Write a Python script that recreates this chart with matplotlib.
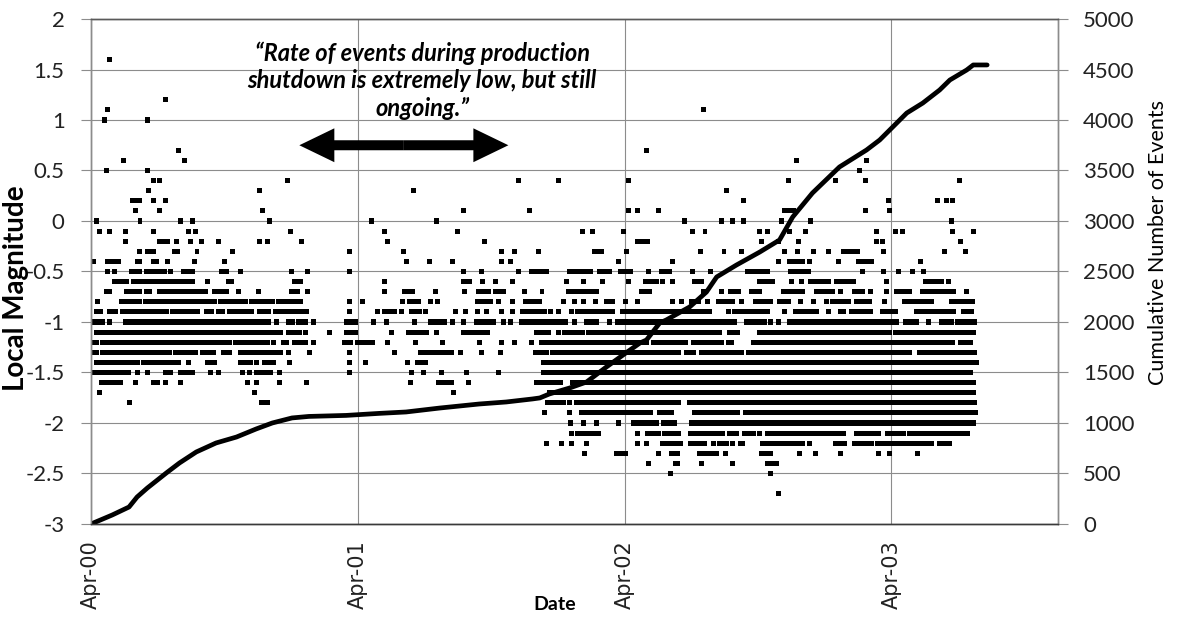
import matplotlib.pyplot as plt
from matplotlib.patches import FancyArrowPatch
import numpy as np

# dates are days since 1 Apr 2000
date_ticks = [0, 365, 730, 1095]
date_labels = ['Apr-00', 'Apr-01', 'Apr-02', 'Apr-03']
mag_ticks = [-3, -2.5, -2, -1.5, -1, -0.5, 0, 0.5, 1, 1.5, 2]
count_ticks = [0, 500, 1000, 1500, 2000, 2500, 3000, 3500, 4000, 4500, 5000]

# cumulative number of events
cum_days = [0, 29, 52, 63, 77, 103, 121, 144, 171, 199, 226, 248, 275, 298,
            349, 394, 431, 477, 531, 568, 604, 614, 627, 655, 678, 705, 733,
            751, 760, 778, 787, 819, 842, 856, 883, 915, 942, 960, 987, 1024,
            1061, 1079, 1116, 1138, 1161, 1175, 1198, 1207, 1226]
cum_events = [0, 89, 168, 267, 356, 505, 604, 713, 802, 861, 941, 1000, 1050,
              1065, 1075, 1095, 1109, 1148, 1188, 1208, 1238, 1248, 1287, 1347,
              1406, 1554, 1700, 1792, 1822, 1990, 2020, 2149, 2297, 2446, 2564,
              2693, 2812, 3040, 3277, 3535, 3703, 3802, 4069, 4168, 4297, 4396,
              4495, 4545, 4545]

# events per magnitude: single days, or (first, last) runs of daily events
runs = {
    1.6: [25],
    1.2: [102],
    1.1: [23, 838],
    1.0: [19, 77],
    0.7: [120, 760],
    0.6: [44, 128, 965, 1061],
    0.5: [21, 77, 1051],
    0.4: [85, 94, 269, 585, 640, 735, 954, 1019, 1060, 1188],
    0.3: [78, 231, 441, 870],
    0.2: [(57, 67), 86, 102, 893, 1091, 1158, 1170, 1179],
    0.1: [61, 94, 235, 509, 600, 735, 748, 776, (949, 961), 1060, 1093],
    0.0: [8, 67, 123, 139, 244, 384, 473, 812, 863, 877, 893, 945, 984, 1177],
    -0.1: [12, 25, 47, 86, 133, 143, 273, 402, 502, 672, 686, 729, 823, 840,
           914, 926, 956, 977, 1074, 1100, 1110, 1179, 1207],
    -0.2: [47, (93, 104), 117, 136, 151, 174, 231, 242, 288, 406, 538,
           (747, 762), 917, 941, 968, 1074, 1083, 1190],
    -0.3: [66, (77, 86), (114, 118), 145, 194, 354, 428, 562, 579, 612,
           (689, 698), 733, 834, 866, 890, 949, 967, 989, 1009, (1029, 1048),
           1084, 1168, 1197],
    -0.4: [3, (23, 38), (63, 67), (86, 89), 104, 142, 183, 432, 463, 495, 562,
           574, 722, 795, 941, (955, 974), 983, 1022, (1050, 1068), 1135],
    -0.5: [22, 32, (55, 67), (76, 101), 109, (126, 139), (179, 185), 205, 274,
           296, 353, 509, 534, 585, (603, 617), 623, (654, 665), (671, 684),
           (696, 709), (725, 738), 763, (780, 792), 823, 847, (898, 919), 926,
           (957, 981), 1056, 1084, 1105, 1124, 1139],
    -0.6: [(32, 49), (58, 95), (98, 139), 159, (188, 192), (279, 286), 402,
           (509, 518), 536, 553, 577, 651, 674, 700, 736, (759, 773), 782, 796,
           (825, 835), (914, 932), 959, 972, (985, 1009), (1020, 1043), 1088,
           (1141, 1164), 1173],
    -0.7: [(21, 25), (49, 66), (76, 80), (93, 156), (169, 185), 202, 229,
           (274, 282), 296, 402, (429, 440), 471, 511, (530, 544), (553, 565),
           593, 617, (653, 665), (669, 691), (753, 764), 838, 862, (875, 886),
           (904, 915), (948, 959), (963, 973), (993, 1008), 1015, 1026,
           (1045, 1056), 1067, 1088, (1102, 1120), (1138, 1180), 1198],
    -0.8: [9, (41, 66), (74, 169), (177, 211), (220, 234), (242, 248),
           (256, 286), 354, 372, 426, (436, 448), 464, 474, (529, 547), 557,
           576, (595, 614), 646, 662, 674, 690, (705, 713), 731, 747, 796, 808,
           (821, 831), 844, (859, 878), 890, (909, 930), (942, 954), 971, 989,
           1006, (1015, 1036), (1047, 1065), 1086, (1113, 1129), (1135, 1150),
           (1177, 1206)],
    -0.9: [(7, 13), (25, 34), (43, 103), (111, 146), (158, 165), (174, 180),
           (190, 220), (230, 243), (253, 295), 353, 392, (401, 415), 425,
           (438, 449), 458, 498, 512, 529, 541, 562, 577, (590, 620), 629, 639,
           658, (665, 713), (727, 741), (747, 800), (802, 833), (838, 846), 872,
           (881, 897), (903, 926), 949, (964, 990), 993, 1009, (1025, 1029),
           (1040, 1066), (1083, 1100), (1129, 1180), (1193, 1205)],
    -1.0: [(5, 16), 25, (47, 243), 254, (270, 275), (284, 293), 304, (350, 362),
           386, 404, 442, (465, 483), 495, 509, (527, 551), 564, 574, 589,
           (595, 649), 662, (678, 691), 710, (720, 778), (780, 814), (820, 830),
           (834, 862), (867, 876), 881, (897, 910), (914, 922), 930, 941,
           (955, 999), (1003, 1041), (1047, 1102), (1114, 1130), 1146,
           (1163, 1177), (1186, 1209)],
    -1.1: [(7, 259), (270, 285), 294, 326, (350, 362), 411, (435, 459), 472,
           (510, 542), (610, 626), 640, (648, 672), (681, 777), (782, 814),
           (818, 835), (839, 860), (873, 885), (915, 931), (935, 1093),
           (1100, 1177), (1184, 1208)],
    -1.2: [(3, 8), (16, 31), (38, 178), (186, 190), (198, 242), 250, (263, 267),
           (279, 293), 304, (347, 355), (365, 385), 406, 444, 481, 531, 562,
           579, 603, (616, 649), (655, 748), (753, 760), (769, 801), (805, 814),
           (824, 862), (872, 876), (907, 970), (974, 1047), (1052, 1174), 1178,
           (1190, 1203)],
    -1.3: [(5, 8), (16, 107), (116, 143), (153, 168), (181, 190), (205, 259),
           270, 299, 353, 415, (451, 493), 506, 534, 560, (608, 623), (631, 773),
           (776, 804), (814, 824), (835, 865), (868, 890), (900, 1047),
           (1052, 1120), (1133, 1157), (1163, 1209)],
    -1.4: [(7, 64), (72, 120), 133, (160, 169), (205, 218), 227, (238, 250),
           272, 353, 375, 433, (446, 458), (619, 714), (717, 814), (818, 1212)],
    -1.5: [(3, 51), 64, 77, (102, 109), (122, 139), 164, 175, 207, 217,
           (227, 246), 258, 353, 439, 455, 480, 514, 557, (619, 713), (718, 814),
           (819, 1203)],
    -1.6: [(14, 41), 61, (85, 91), 102, 122, 214, 227, 258, 295, 437, (476, 493),
           516, (609, 643), (659, 779), (782, 814), (819, 865), (868, 1031),
           (1037, 1207)],
    -1.7: [12, 223, 496, (627, 645), (648, 678), (681, 714), (716, 776),
           (778, 788), (792, 813), (819, 832), (835, 1207)],
    -1.8: [53, (233, 241), (625, 646), 654, (664, 695), (700, 716), (720, 737),
           (742, 767), (770, 799), 804, (819, 894), (897, 1209)],
    -1.9: [621, 655, (671, 698), (701, 713), (720, 727), (732, 766), (778, 794),
           (825, 884), (895, 908), (915, 1065), (1069, 1210)],
    -2.0: [656, 674, 691, 721, (742, 773), (783, 798), (821, 983), (988, 1207)],
    -2.1: [658, (665, 695), 748, (761, 776), (785, 797), 804, (820, 864),
           (874, 883), (894, 906), 915, (925, 963), (965, 995), (997, 1029),
           (1047, 1078), (1090, 1111), (1120, 1184), (1191, 1199)],
    -2.2: [623, 644, 658, 678, 748, 760, (782, 800), 807, (820, 840), 851,
           (860, 869), 878, (888, 892), (919, 973), 983, 1019, 1025, 1031,
           (1045, 1068), (1076, 1150), (1161, 1175)],
    -2.3: [675, (719, 731), 776, (794, 803), (833, 849), 856, 868, (917, 930),
           969, 991, 1025, 1077, 1093, 1131],
    -2.4: [763, (799, 803), 835, 878, (925, 938)],
    -2.5: [793, 930],
    -2.7: [940],
}

note = '\u201cRate of events during production\nshutdown is extremely low, but still\nongoing.\u201d'

# one marker is ~5 px wide (about 3.4 days either side) and 0.05 units tall
half_w = 3.4
lefts, widths, mags = [], [], []
for m, items in runs.items():
    for it in items:
        a, b = (it, it) if np.isscalar(it) else it
        lefts.append(a - half_w)
        widths.append(b - a + 2 * half_w)
        mags.append(m)

fig = plt.figure(figsize=(11.79, 6.19), dpi=100)
ax = fig.add_axes([0.0772, 0.1535, 0.8202, 0.8158])
ax.set_axisbelow(True)
ax.barh(mags, widths, left=lefts, height=0.05, color='black', linewidth=0)

ax.set_xlim(0, 1323)
ax.set_ylim(-3, 2)
ax.set_xticks(date_ticks)
ax.set_xticklabels(date_labels, rotation=90, fontsize=15, family='DejaVu Sans',
                   color='#222222')
ax.set_yticks(mag_ticks)
ax.set_yticklabels([f'{t:g}' for t in mag_ticks], fontsize=16, family='Lato',
                   color='#222222')
ax.tick_params(axis='x', length=0, pad=12)
ax.tick_params(axis='y', length=7, width=0.8, color='#8c8c8c', pad=12)
ax.grid(True, color='#8c8c8c', linewidth=0.8)

ax.set_ylabel('Local Magnitude', fontsize=20, fontweight='bold', family='Lato')
ax.yaxis.set_label_coords(-0.064, 0.467)
ax.set_xlabel('Date', fontsize=14, fontweight='bold', family='Lato')
ax.xaxis.set_label_coords(0.48, -0.142)

ax2 = ax.twinx()
ax2.plot(cum_days, cum_events, color='black', linewidth=3.4,
         solid_joinstyle='round', solid_capstyle='round')
ax2.set_ylim(0, 5000)
ax2.set_yticks(count_ticks)
ax2.set_yticklabels([str(t) for t in count_ticks], fontsize=16, family='Lato',
                    color='#222222')
ax2.tick_params(axis='y', length=7, width=0.8, color='#8c8c8c', pad=11)
ax2.set_ylabel('Cumulative Number of Events', fontsize=15.5, family='Lato',
               rotation=90)
ax2.yaxis.set_label_coords(1.093, 0.558)

for a in (ax, ax2):
    a.spines['left'].set_color('#8c8c8c')
    a.spines['right'].set_color('#8c8c8c')
    a.spines['top'].set_color('#5a5a5a')
    a.spines['bottom'].set_color('#3a3a3a')
    for s in a.spines.values():
        s.set_linewidth(1.0)

# shutdown annotation
ax.text(453, 1.39, note, ha='center', va='center', fontsize=17,
        fontweight='bold', style='italic', family='Lato', linespacing=1.22,
        multialignment='center')
for end in (285, 571):
    ax.add_patch(FancyArrowPatch((428, 0.75), (end, 0.75),
                                 arrowstyle='simple,head_length=1.26,head_width=1.22,tail_width=0.36',
                                 mutation_scale=20, color='black', linewidth=0,
                                 shrinkA=0, shrinkB=0))

fig.savefig('out.png', dpi=100)
